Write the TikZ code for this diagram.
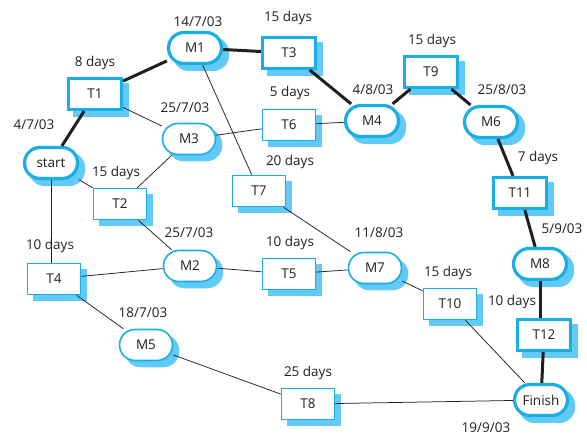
\documentclass[tikz,border=0pt]{standalone}
\usepackage{fontspec}
\setmainfont{Open Sans}
\definecolor{boxblue}{HTML}{1AAEE6}
\definecolor{shadeblue}{HTML}{62CBF5}
\definecolor{inkdark}{HTML}{231F20}
\pgfdeclarelayer{background}
\pgfsetlayers{background,main}

\begin{document}
\begin{tikzpicture}[x=1pt,y=-1pt,
		font=\fontsize{13.5}{16}\selectfont, text=inkdark,
		task/.style={rectangle, draw=boxblue, fill=white, line width=1.6pt,
			minimum width=53pt, minimum height=31pt, inner sep=0pt},
		mile/.style={task, rounded corners=15.5pt},
		crit/.style={line width=3.2pt},
		link/.style={draw=inkdark, line width=0.75pt},
		critlink/.style={draw=inkdark, line width=3pt}]
			\useasboundingbox (0,0) rectangle (587,435);
			% draw milestones and tasks
			\node[mile, crit] (start) at (51,163) {start};
			\node[task, crit] (T1) at (95,94) {T1};
			\node[mile, crit] (M1) at (195,48) {M1};
			\node[task, crit] (T3) at (289,53) {T3};
			\node[mile] (M3) at (189,139) {M3};
			\node[task] (T6) at (289,125) {T6};
			\node[task] (T7) at (259,191) {T7};
			\node[task] (T2) at (120,204) {T2};
			\node[mile, crit] (M4) at (372,121) {M4};
			\node[task, crit] (T9) at (431,72) {T9};
			\node[mile, crit] (M6) at (491,122) {M6};
			\node[task, crit] (T11) at (520,193) {T11};
			\node[mile, crit] (M8) at (540,264) {M8};
			\node[task, crit] (T12) at (544,335) {T12};
			\node[mile, crit] (Finish) at (541,400) {Finish};
			\node[task] (T10) at (450,304) {T10};
			\node[mile] (M7) at (375,268) {M7};
			\node[task] (T5) at (289,274) {T5};
			\node[mile] (M2) at (190,266) {M2};
			\node[task] (T4) at (54,279) {T4};
			\node[mile] (M5) at (146,345) {M5};
			\node[task] (T8) at (308,404) {T8};
			
			% shadows behind the boxes
			\begin{pgfonlayer}{background}
				\foreach \n in {T1,T3,T6,T7,T2,T9,T11,T12,T10,T5,T4,T8}
					\fill[shadeblue] ([shift={(6,6)}]\n.south west) rectangle ([shift={(6,6)}]\n.north east);
				\foreach \n in {start,M1,M3,M4,M6,M8,Finish,M7,M2,M5}
					\fill[shadeblue, rounded corners=16pt] ([shift={(6,6)}]\n.south west) rectangle ([shift={(6,6)}]\n.north east);
			\end{pgfonlayer}
			
			% dates and durations
			\node (dstart) at (34,125) {4/7/03};
			\node (dT1) at (95,63) {8 days};
			\node (dM1) at (198,22) {14/7/03};
			\node (dT3) at (288,18) {15 days};
			\node (dM3) at (185,108) {25/7/03};
			\node (dT6) at (290,93) {5 days};
			\node (dT7) at (290,162) {20 days};
			\node (dT2) at (116,173) {15 days};
			\node (dM4) at (373,90) {4/8/03};
			\node (dT9) at (432,41) {15 days};
			\node (dM6) at (502,90) {25/8/03};
			\node (dT11) at (538,158) {7 days};
			\node (dM8) at (562,229) {5/9/03};
			\node (dT12) at (512,302) {10 days};
			\node (dFinish) at (486,428) {19/9/03};
			\node (dT10) at (448,273) {15 days};
			\node (dM7) at (379,233) {11/8/03};
			\node (dT5) at (290,243) {10 days};
			\node (dM2) at (189,233) {25/7/03};
			\node (dT4) at (50,246) {10 days};
			\node (dM5) at (143,313) {18/7/03};
			\node (dT8) at (308,373) {25 days};
			
			% critical path
			\draw[critlink] (start) -- (T1);
			\draw[critlink] (T1) -- (M1);
			\draw[critlink] (M1) -- (T3);
			\draw[critlink] (T3) -- (M4);
			\draw[critlink] (M4) -- (T9);
			\draw[critlink] (T9) -- (M6);
			\draw[critlink] (M6) -- (T11);
			\draw[critlink] (T11) -- (M8);
			\draw[critlink] (M8.south) -- (M8.south |- T12.north);
			\draw[critlink] (T12) -- (Finish);
			
			% other dependencies
			\draw[link] (T1) -- (M3);
			\draw[link] (M1) -- (T7);
			\draw[link] (M3) -- (T6);
			\draw[link] (T6) -- (M4);
			\draw[link] (start) -- (T2);
			\draw[link] (T2) -- (M3);
			\draw[link] (start.south) -- (start.south |- T4.north);
			\draw[link] (T2) -- (M2);
			\draw[link] (T4) -- (M2);
			\draw[link] (M2) -- (T5);
			\draw[link] (T5) -- (M7);
			\draw[link] (T7) -- (M7);
			\draw[link] (M7) -- (T10);
			\draw[link] (T10) -- (Finish);
			\draw[link] (T4) -- (M5);
			\draw[link] (M5) -- (T8);
			\draw[link] (T8) -- (Finish);
		\end{tikzpicture}
\end{document}
